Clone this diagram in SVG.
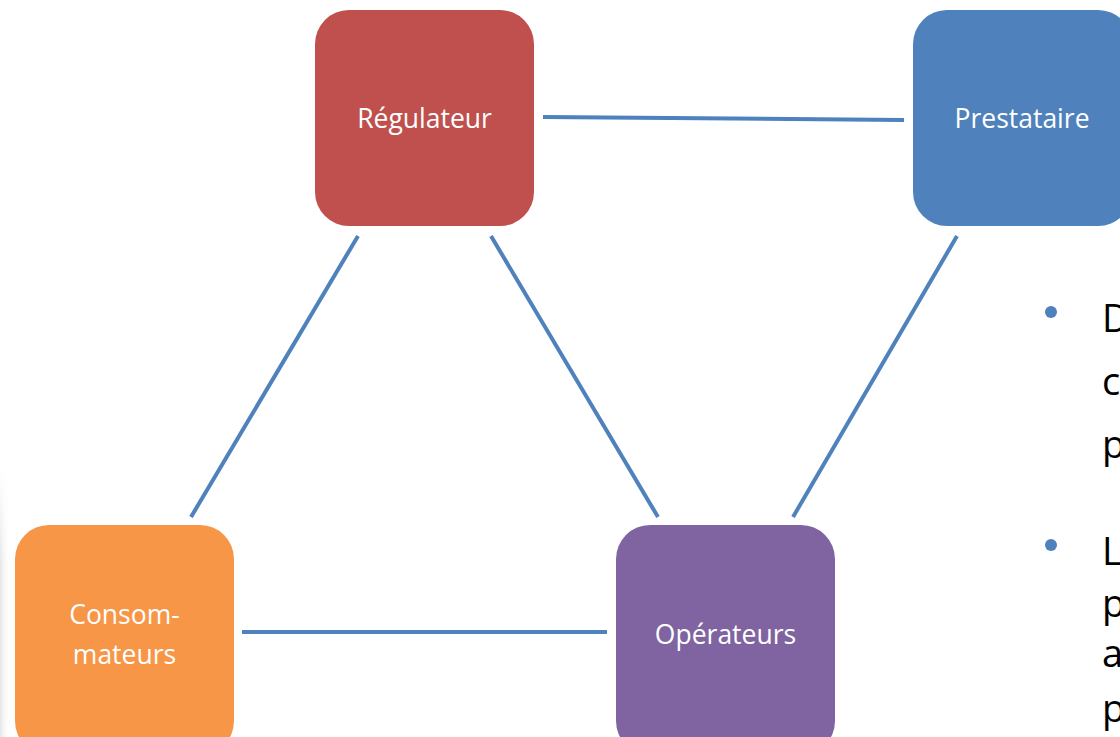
<svg xmlns="http://www.w3.org/2000/svg" width="1120" height="737" viewBox="0 0 1120 737">
  <defs>
    <linearGradient id="edgeShade" x1="0" y1="0" x2="1" y2="0">
      <stop offset="0" stop-color="#e6e6e6"/>
      <stop offset="1" stop-color="#ffffff" stop-opacity="0"/>
    </linearGradient>
    <linearGradient id="edgeFade" x1="0" y1="0" x2="0" y2="1">
      <stop offset="0" stop-color="#fff" stop-opacity="0"/>
      <stop offset="0.35" stop-color="#fff" stop-opacity="1"/>
      <stop offset="1" stop-color="#fff" stop-opacity="1"/>
    </linearGradient>
    <mask id="edgeMask">
      <rect x="0" y="470" width="12" height="267" fill="url(#edgeFade)"/>
    </mask>
  </defs>
  <style>
    .box { stroke: none; }
    .label { font-family: "Open Sans", "Liberation Sans", sans-serif; font-size: 26.5px; fill: #ffffff; text-anchor: middle; }
    .link { stroke: #4F81BD; stroke-width: 4; fill: none; }
    .body { font-family: "Open Sans", "Liberation Sans", sans-serif; font-size: 38px; fill: #000000; }
    .dot { fill: #4F81BD; }
  </style>

  <rect width="1120" height="737" fill="#ffffff"/>
  <!-- soft page-edge shading at lower left -->
  <rect x="0" y="470" width="10" height="267" fill="url(#edgeShade)" mask="url(#edgeMask)"/>

  <g id="connectors">
    <line class="link" x1="543" y1="117" x2="904" y2="120"/>
    <line class="link" x1="358" y1="236" x2="191" y2="517"/>
    <line class="link" x1="491" y1="236" x2="658" y2="517"/>
    <line class="link" x1="957" y1="236" x2="793" y2="517"/>
    <line class="link" x1="242" y1="632" x2="607" y2="632"/>
  </g>

  <g id="regulateur">
    <rect class="box" x="315" y="10" width="219" height="216" rx="34" fill="#C0504D"/>
    <text class="label" x="424.5" y="128">Régulateur</text>
  </g>

  <g id="prestataire">
    <rect class="box" x="913" y="10" width="219" height="216" rx="34" fill="#4F81BD"/>
    <text class="label" x="1022" y="128">Prestataire</text>
  </g>

  <g id="consommateurs">
    <rect class="box" x="15" y="525" width="219" height="230" rx="34" fill="#F79646"/>
    <text class="label" x="124.5" y="624">Consom-</text>
    <text class="label" x="124.5" y="664">mateurs</text>
  </g>

  <g id="operateurs">
    <rect class="box" x="616" y="525" width="219" height="230" rx="34" fill="#8064A2"/>
    <text class="label" x="725.5" y="644">Opérateurs</text>
  </g>

  <g id="bullets">
    <circle class="dot" cx="1051" cy="312" r="6"/>
    <text class="body" x="1102" y="332">D</text>
    <text class="body" x="1102" y="395">c</text>
    <text class="body" x="1102" y="458">p</text>
    <circle class="dot" cx="1051" cy="545" r="6"/>
    <text class="body" x="1102" y="565">L</text>
    <text class="body" x="1102" y="617">p</text>
    <text class="body" x="1102" y="667">a</text>
    <text class="body" x="1102" y="722">p</text>
  </g>
</svg>
